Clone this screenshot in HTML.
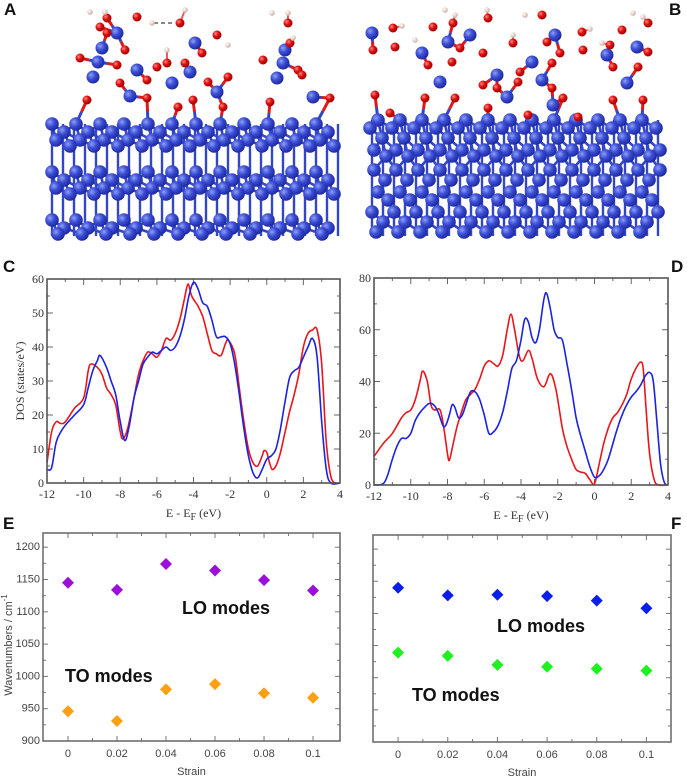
<!DOCTYPE html>
<html><head><meta charset="utf-8">
<style>
html,body{margin:0;padding:0;background:#fff;}
svg{display:block;}
.pl{font-family:"Liberation Sans",sans-serif;font-weight:bold;font-size:17px;fill:#111;}
.st{font-family:"Liberation Serif",serif;font-size:12px;fill:#333;}
.ss{font-family:"Liberation Sans",sans-serif;font-size:11px;fill:#444;}
.big{font-family:"Liberation Sans",sans-serif;font-weight:bold;font-size:18px;fill:#111;}
</style></head>
<body>
<svg id="fig" width="687" height="778" viewBox="0 0 687 778" xmlns="http://www.w3.org/2000/svg">
<defs>
<radialGradient id="gb" cx="0.35" cy="0.35" r="0.7"><stop offset="0" stop-color="#8f9ff5"/><stop offset="0.45" stop-color="#3c4fd6"/><stop offset="1" stop-color="#1a259a"/></radialGradient>
<radialGradient id="gr" cx="0.35" cy="0.35" r="0.7"><stop offset="0" stop-color="#ff8a80"/><stop offset="0.45" stop-color="#e01010"/><stop offset="1" stop-color="#900"/></radialGradient>
<radialGradient id="gw" cx="0.35" cy="0.35" r="0.7"><stop offset="0" stop-color="#fff"/><stop offset="1" stop-color="#c9a9a0"/></radialGradient>
</defs>
<g id="molA"></g>
<g id="molB"></g>
<text class="pl" x="4" y="15">A</text>
<text class="pl" x="669" y="15">B</text>
<text class="pl" x="3" y="272">C</text>
<text class="pl" x="671" y="272">D</text>
<text class="pl" x="3" y="529">E</text>
<text class="pl" x="671" y="529">F</text>
<g id="chartC"></g>
<g id="chartD"></g>
<g id="chartE"></g>
<g id="chartF"></g>
</svg>
<script>
// ---- DOS data (panel C) ----
const cRedE=[-12,-11.75,-11.5,-11.25,-11,-10.5,-10,-9.75,-9.6,-9.25,-9,-8.75,-8.5,-8.25,-8,-7.85,-7.6,-7.25,-7,-6.75,-6.5,-6.25,-6,-5.75,-5.5,-5.25,-5,-4.75,-4.5,-4.3,-4.1,-3.75,-3.5,-3.25,-3,-2.75,-2.5,-2.25,-2.1,-1.75,-1.5,-1.25,-1,-0.75,-0.5,-0.25,-0.15,0,0.15,0.3,0.5,0.75,1,1.25,1.5,1.75,2,2.25,2.5,2.75,3,3.25,3.5,3.75,4];
const cRedV=[6,15,18,17.5,18,22,25,33,35,34,32,28,26,23,15,13,16,25,32,36,38.5,38,37,39,42.5,42,44,48,54,58.5,55,52,49,44,39,38,37.5,41,42,38,28,18,10,6,5,8,9.5,9,6,4,5,9,15,21,26,32,40,44,45,45,35,12,2,0,0];
const cBlueE=[-12,-11.75,-11.5,-11.25,-11,-10.5,-10,-9.75,-9.5,-9.25,-9.1,-8.75,-8.5,-8.25,-8,-7.75,-7.5,-7.25,-7,-6.75,-6.5,-6.25,-6,-5.75,-5.5,-5.25,-5,-4.75,-4.5,-4.25,-4,-3.75,-3.5,-3.25,-3,-2.75,-2.5,-2.25,-2,-1.75,-1.5,-1.25,-1,-0.75,-0.5,-0.25,0,0.25,0.5,0.75,1,1.25,1.5,1.75,2,2.25,2.5,2.75,3,3.25,3.5,4];
const cBlueV=[4,4.5,12,15,17,20,23,28,33,36,37.5,34,30,26,18,12.5,17,25,30,35,37,38.5,38,39,40,39,40,43,48,55,59,57,53,52,48,43,43,43,41,35,26,16,8,3,1.5,4,7,8,10,16,24,31,33,34,37,40,42.5,37,18,4,0,0];
// ---- DOS data (panel D) ----
const dRedE=[-12,-11.5,-11,-10.5,-10.25,-10,-9.75,-9.5,-9.35,-9.1,-8.9,-8.7,-8.4,-8.2,-8,-7.9,-7.75,-7.5,-7.25,-7,-6.75,-6.5,-6.25,-6,-5.75,-5.5,-5.25,-5,-4.75,-4.55,-4.35,-4.1,-3.9,-3.6,-3.4,-3.1,-2.75,-2.4,-2.1,-1.75,-1.5,-1.25,-1,-0.75,-0.5,-0.25,0,0.25,0.5,0.75,1,1.25,1.5,1.75,2,2.25,2.5,2.65,2.8,3,3.25,3.5,4];
const dRedV=[11,16,20,26,28,29,33,40,44,40,31,29,29,22,12,9.5,14,22,28,33,35,37,41,46,48,47,46,50,60,66,60,50,48,52,49,41,38,43,37,22,15,10,6,5,4.5,2,0.5,8,16,22,26,28,31,35,41,45,47.5,45,30,12,2,0,0];
const dBlueE=[-12,-11.5,-11.25,-11,-10.75,-10.5,-10.25,-10,-9.75,-9.5,-9.25,-9,-8.75,-8.5,-8.25,-8.1,-7.9,-7.75,-7.6,-7.4,-7.2,-7,-6.75,-6.5,-6.25,-6,-5.75,-5.5,-5.25,-5,-4.75,-4.5,-4.25,-4,-3.8,-3.6,-3.4,-3.2,-3,-2.75,-2.6,-2.4,-2.2,-2,-1.75,-1.5,-1.25,-1,-0.75,-0.5,-0.25,0,0.25,0.5,0.75,1,1.25,1.5,1.75,2,2.25,2.5,2.75,3,3.2,3.4,3.6,3.8,4];
const dBlueV=[0,0.5,4,10,15,18,18,20,25,28,30,31.5,31,28,23,23,27,31,30,26,27,31,36,36,33,27,20,20.5,23,28,36,45,48,56,64,63,57,55,60,72,74,68,60,57,56,47,37,26,19,13,7,3,3.5,6,10,16,22,27,31,34,36,38.5,42,43.5,40,24,8,1,0];
const dosXTicks=[-12,-10,-8,-6,-4,-2,0,2,4];
const dosCYTicks=[0,10,20,30,40,50,60];
const dosDYTicks=[0,20,40,60,80];
// ---- wavenumber data ----
const strain=[0,0.02,0.04,0.06,0.08,0.1];
const strainLabels=["0","0.02","0.04","0.06","0.08","0.1"];
const eLO=[1145,1134,1174,1164,1149,1133];
const eTO=[946,931,980,988,974,967];
const fLO=[1140,1128,1129,1127,1120,1108];
const fTO=[1039,1034,1020,1017,1014,1011];
const wnTicks=[900,950,1000,1050,1100,1150,1200];

const NS="http://www.w3.org/2000/svg";
function mk(parent,tag,attrs){const e=document.createElementNS(NS,tag);for(const k in attrs)e.setAttribute(k,attrs[k]);parent.appendChild(e);return e;}
function smoothPath(pts){let d="M"+pts[0][0].toFixed(1)+","+pts[0][1].toFixed(1);
 for(let i=0;i<pts.length-1;i++){const p0=pts[i-1]||pts[i],p1=pts[i],p2=pts[i+1],p3=pts[i+2]||p2;
  const c1=[p1[0]+(p2[0]-p0[0])/6,p1[1]+(p2[1]-p0[1])/6],c2=[p2[0]-(p3[0]-p1[0])/6,p2[1]-(p3[1]-p1[1])/6];
  d+=" C"+c1[0].toFixed(1)+","+c1[1].toFixed(1)+" "+c2[0].toFixed(1)+","+c2[1].toFixed(1)+" "+p2[0].toFixed(1)+","+p2[1].toFixed(1);}
 return d;}

function dosChart(g,box,ymax,yTicks,yMinorStep,series,showYTitle){
 const sx=v=>box.x0+(v+12)/16*(box.x1-box.x0);
 const sy=v=>box.y1-v/ymax*(box.y1-box.y0);
 for(let v=-12;v<=4;v+=1){const maj=(v%2===0);const L=maj?6:3;const x=sx(v);
  let t=mk(g,"line",{x1:x,y1:box.y1,x2:x,y2:box.y1-L,stroke:"#666","stroke-width":1});
  
  
  t=mk(g,"line",{x1:x,y1:box.y0,x2:x,y2:box.y0+L,stroke:"#666","stroke-width":1});
  
  }
 for(let v=0;v<=ymax;v+=yMinorStep){const maj=yTicks.indexOf(v)>=0;const L=maj?6:3;const y=sy(v);
  let t=mk(g,"line",{x1:box.x0,y1:y,x2:box.x0+L,y2:y,stroke:"#666","stroke-width":1});
  
  
  t=mk(g,"line",{x1:box.x1,y1:y,x2:box.x1-L,y2:y,stroke:"#666","stroke-width":1});
  
  }
 dosXTicks.forEach(v=>{const t=mk(g,"text",{x:sx(v),y:box.y1+15,"text-anchor":"middle",class:"st"});t.textContent=(v<0?"-"+(-v):v);
  
  });
 yTicks.forEach(v=>{const t=mk(g,"text",{x:box.x0-3,y:sy(v)+4,"text-anchor":"end",class:"st"});t.textContent=v;
  
  });
 series.forEach(s=>{const pts=s.e.map((e,i)=>[sx(e),sy(s.v[i])]);
  const p=mk(g,"path",{d:smoothPath(pts),fill:"none",stroke:s.c,"stroke-width":1.6,"stroke-linejoin":"round"});
  
  });
 const fr=mk(g,"rect",{x:box.x0,y:box.y0,width:box.x1-box.x0,height:box.y1-box.y0,fill:"none",stroke:"#555","stroke-width":1.6});
 
 
 const xt=mk(g,"text",{x:(box.x0+box.x1)/2,y:box.y1+34,"text-anchor":"middle",class:"st","font-size":"14"});
 xt.innerHTML='E - E<tspan font-size="10" dy="3">F</tspan><tspan dy="-3"> (eV)</tspan>';
 
 
 if(showYTitle){const yt=mk(g,"text",{x:0,y:0,transform:"translate(24,"+((box.y0+box.y1)/2)+") rotate(-90)","text-anchor":"middle",class:"st","font-size":"15"});
  yt.textContent="DOS (states/eV)";
  
  }
}
dosChart(document.getElementById("chartC"),{x0:47,x1:340,y0:279,y1:483},60,dosCYTicks,5,
 [{e:cRedE,v:cRedV,c:"#e8161b",name:"dos-red-line-c"},{e:cBlueE,v:cBlueV,c:"#1b22e0",name:"dos-blue-line-c"}],true);
dosChart(document.getElementById("chartD"),{x0:374,x1:668,y0:278,y1:485},80,dosDYTicks,10,
 [{e:dRedE,v:dRedV,c:"#e8161b",name:"dos-red-line-d"},{e:dBlueE,v:dBlueV,c:"#1b22e0",name:"dos-blue-line-d"}],false);

function wnChart(g,box,x0v,x1v,series,showY,labels){
 const sx=v=>box.x0+(v-x0v)/(x1v-x0v)*(box.x1-box.x0);
 const yb=900,yt=1222;
 const sy=v=>box.y1-(v-yb)/(yt-yb)*(box.y1-box.y0);
 for(let v=0;v<=0.1001;v+=0.01){const maj=Math.round(v*100)%2===0;const L=maj?5:3;const x=sx(v);
  let t=mk(g,"line",{x1:x,y1:box.y1,x2:x,y2:box.y1-L,stroke:"#777","stroke-width":1});
  
  
  t=mk(g,"line",{x1:x,y1:box.y0,x2:x,y2:box.y0+L,stroke:"#777","stroke-width":1});
  
  }
 for(let v=900;v<=1200;v+=25){const maj=v%50===0;const L=maj?5:3;const y=sy(v);
  let t=mk(g,"line",{x1:box.x0,y1:y,x2:box.x0+L,y2:y,stroke:"#777","stroke-width":1});
  
  
  t=mk(g,"line",{x1:box.x1,y1:y,x2:box.x1-L,y2:y,stroke:"#777","stroke-width":1});
  
  }
 strain.forEach((v,i)=>{const t=mk(g,"text",{x:sx(v),y:box.y1+16,"text-anchor":"middle",class:"ss","font-size":"12"});t.textContent=strainLabels[i];
  
  });
 if(showY){wnTicks.forEach(v=>{const t=mk(g,"text",{x:box.x0-3,y:sy(v)+3,"text-anchor":"end",class:"ss","font-size":"9.5"});t.textContent=v;
  
  });
  const ytl=mk(g,"text",{x:0,y:0,transform:"translate(12,"+((box.y0+box.y1)/2+8)+") rotate(-90)","text-anchor":"middle",class:"ss","font-size":"12"});
  ytl.innerHTML='Wavenumbers / cm<tspan font-size="8" dy="-5">-1</tspan>';
  
  }
 series.forEach(s=>{s.v.forEach((val,i)=>{const x=sx(strain[i]),y=sy(val),r=6;
  const p=mk(g,"path",{d:`M${x},${y-r} L${x+r},${y} L${x},${y+r} L${x-r},${y} Z`,fill:s.c});
  
  });});
 const fr=mk(g,"rect",{x:box.x0,y:box.y0,width:box.x1-box.x0,height:box.y1-box.y0,fill:"none",stroke:"#666","stroke-width":1.5});
 
 
 const st=mk(g,"text",{x:(box.x0+box.x1)/2,y:box.y1+34,"text-anchor":"middle",class:"ss","font-size":"12"});
 st.textContent="Strain";
 
 
 labels.forEach(l=>{const t=mk(g,"text",{x:l.x,y:l.y,class:"big"});t.textContent=l.t;
  
  });
}
wnChart(document.getElementById("chartE"),{x0:43,x1:340,y0:533,y1:741},-0.0102,0.111,
 [{v:eLO,c:"#9b0fd9",name:"lo-mode-point"},{v:eTO,c:"#ff9f12",name:"to-mode-point"}],true,
 [{x:182,y:614,t:"LO modes",n:"lo-modes-label"},{x:65,y:682,t:"TO modes",n:"to-modes-label"}]);
wnChart(document.getElementById("chartF"),{x0:373,x1:671,y0:535,y1:742},-0.0101,0.1099,
 [{v:fLO,c:"#0a1ee8",name:"lo-mode-point"},{v:fTO,c:"#1ff01f",name:"to-mode-point"}],false,
 [{x:497,y:632,t:"LO modes",n:"lo-modes-label"},{x:412,y:701,t:"TO modes",n:"to-modes-label"}]);

// ---- molecular structure illustrations ----
function drawMol(g,xmin,xmax,rows,topY,si,o,h,dash){
 const bonds=mk(g,"g",{}),atoms=mk(g,"g",{});
 
 
 const lat=[];
 rows.forEach(r=>{for(let x=xmin+r.off;x<=xmax;x+=r.step)lat.push([x,r.y]);});
 const bl=(a,b,c,w)=>mk(bonds,"line",{x1:a[0],y1:a[1],x2:b[0],y2:b[1],stroke:c,"stroke-width":w||3});
 // vertical sticks
 for(let x=xmin+2;x<=xmax;x+=11)mk(bonds,"line",{x1:x,y1:topY,x2:x,y2:236,stroke:"#3346c8","stroke-width":2.4});
 for(let i=0;i<lat.length;i++)for(let j=i+1;j<lat.length;j++){const dx=lat[j][0]-lat[i][0],dy=lat[j][1]-lat[i][1];
  const d=Math.hypot(dx,dy);if(d<19&&d>4)bl(lat[i],lat[j],"#3346c8",2.6);}
 si.forEach(a=>{o.forEach(b=>{const d=Math.hypot(a[0]-b[0],a[1]-b[1]);if(d<20){const m=[(a[0]+b[0])/2,(a[1]+b[1])/2];bl(a,m,"#3346c8");bl(m,b,"#e01818");}});});
 o.forEach(a=>{h.forEach(b=>{if(Math.hypot(a[0]-b[0],a[1]-b[1])<14)bl(a,b,"#e06060",2);});
  let best=null,bd=1e9;lat.forEach(b=>{const d=Math.hypot(a[0]-b[0],a[1]-b[1]);if(d<bd){bd=d;best=b;}});
  if(bd<30&&best[1]>a[1]){const m=[(a[0]+best[0])/2,(a[1]+best[1])/2];bl(a,m,"#e01818");bl(m,best,"#3346c8");}});
 if(dash)mk(bonds,"line",{x1:dash[0],y1:dash[1],x2:dash[2],y2:dash[3],stroke:"#888","stroke-width":2,"stroke-dasharray":"4,3"});
 lat.forEach(p=>mk(atoms,"circle",{cx:p[0],cy:p[1],r:6.8,fill:"url(#gb)"}));
 si.forEach(p=>mk(atoms,"circle",{cx:p[0],cy:p[1],r:6.5,fill:"url(#gb)"}));
 o.forEach(p=>mk(atoms,"circle",{cx:p[0],cy:p[1],r:4.5,fill:"url(#gr)"}));
 h.forEach(p=>mk(atoms,"circle",{cx:p[0],cy:p[1],r:2.8,fill:"url(#gw)"}));
}
drawMol(document.getElementById("molA"),50,338,
 [{y:124,off:2,step:24},{y:132,off:14,step:24},{y:140,off:6,step:24},{y:146,off:20,step:24},
  {y:172,off:2,step:24},{y:180,off:14,step:24},{y:188,off:6,step:24},{y:194,off:20,step:24},
  {y:220,off:2,step:24},{y:228,off:14,step:24},{y:234,off:8,step:24}],124,
 [[117,33],[102,48],[98,62],[93,77],[137,70],[130,96],[172,83],[190,72],[195,43],[217,92],[285,50],[283,63],[277,78],[313,97]],
 [[137,17],[180,23],[107,18],[100,27],[80,58],[117,65],[120,83],[125,50],[157,67],[147,80],[87,100],[147,98],[167,63],[185,63],[178,107],[193,100],[208,82],[217,35],[202,53],[228,77],[223,107],[263,60],[288,23],[290,43],[298,70],[302,75],[270,102],[330,98],[107,33]],
 [[90,12],[105,12],[152,23],[185,10],[167,50],[228,45],[272,13],[288,13],[293,38]],[154,23,174,23]);
drawMol(document.getElementById("molB"),370,660,
 [{y:120,off:8,step:22},{y:128,off:0,step:22},{y:138,off:12,step:22},{y:150,off:4,step:22},{y:156,off:16,step:22},
  {y:170,off:4,step:22},{y:180,off:15,step:22},{y:192,off:8,step:22},{y:200,off:18,step:22},
  {y:212,off:2,step:22},{y:222,off:13,step:22},{y:232,off:6,step:22}],120,
 [[422,53],[448,42],[470,35],[440,82],[497,75],[507,97],[532,62],[542,80],[555,35],[553,105],[607,55],[637,47],[627,83],[372,33]],
 [[393,28],[373,50],[395,47],[433,27],[453,23],[488,18],[460,48],[428,65],[452,62],[425,98],[455,98],[483,53],[483,85],[497,88],[488,108],[513,43],[520,72],[518,82],[542,15],[547,42],[560,53],[552,63],[552,88],[563,98],[528,115],[578,117],[582,32],[583,50],[610,45],[622,30],[648,23],[648,52],[613,67],[638,67],[613,100],[643,100],[375,95],[390,113]],
 [[445,10],[455,15],[487,10],[525,15],[513,35],[415,40],[402,26],[590,29],[602,43],[633,13],[643,17]],null);
</script>
</body></html>
